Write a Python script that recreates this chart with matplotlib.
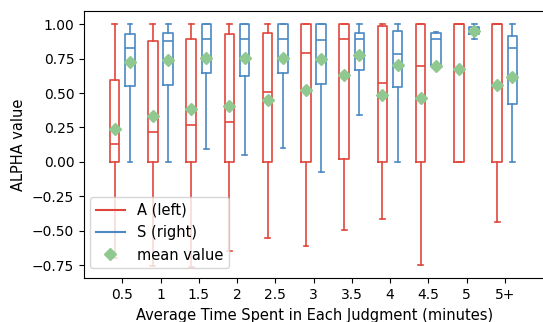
import numpy as np
import matplotlib
matplotlib.use("Agg")
import matplotlib.pyplot as plt
from matplotlib.lines import Line2D

# ---------------------------------------------------------------------------
# Data
# ---------------------------------------------------------------------------
groups = ["0.5", "1", "1.5", "2", "2.5", "3", "3.5", "4", "4.5", "5", "5+"]

# A (left)
a_lo   = [-0.70, -0.757, -0.76, -0.648, -0.556, -0.612, -0.493, -0.418, -0.745, 0.00, -0.437]
a_q1   = [0.00, 0.00, 0.00, 0.00, 0.00, 0.00, 0.023, 0.00, 0.00, 0.00, 0.00]
a_med  = [0.132, 0.217, 0.27, 0.289, 0.505, 0.794, 0.895, 0.573, 0.699, 1.00, 1.00]
a_q3   = [0.597, 0.878, 0.895, 0.93, 0.939, 1.00, 1.00, 0.987, 1.00, 1.00, 1.00]
a_hi   = [1.00, 1.00, 1.00, 1.00, 1.00, 1.00, 1.00, 1.00, 1.00, 1.00, 1.00]
a_mean = [0.24, 0.336, 0.385, 0.408, 0.452, 0.522, 0.634, 0.486, 0.464, 0.674, 0.556]

# S (right)
s_lo   = [0.00, 0.00, 0.093, 0.052, 0.10, -0.074, 0.343, 0.00, 0.70, 0.895, 0.00]
s_q1   = [0.554, 0.561, 0.643, 0.624, 0.643, 0.568, 0.667, 0.541, 0.706, 0.927, 0.418]
s_med  = [0.83, 0.876, 0.895, 0.895, 0.895, 0.888, 0.895, 0.781, 0.895, 0.956, 0.827]
s_q3   = [0.93, 0.939, 1.00, 1.00, 1.00, 1.00, 0.934, 0.948, 0.934, 0.977, 0.917]
s_hi   = [1.00, 1.00, 1.00, 1.00, 1.00, 1.00, 1.00, 1.00, 0.94, 1.00, 1.00]
s_mean = [0.725, 0.74, 0.757, 0.757, 0.757, 0.745, 0.774, 0.706, 0.696, 0.95, 0.614]

RED   = "#e0453b"
BLUE  = "#4a89c4"
GREEN = "#90c990"


def make_stats(lo, q1, med, q3, hi, mean):
    return [dict(whislo=l, q1=a, med=m, q3=b, whishi=h, mean=mu, fliers=[])
            for l, a, m, b, h, mu in zip(lo, q1, med, q3, hi, mean)]


def draw(ax, stats, positions, color):
    lw = 1.2
    ax.bxp(stats, positions=positions, widths=0.25, showmeans=True,
           showfliers=False, manage_ticks=False,
           boxprops=dict(color=color, linewidth=lw),
           whiskerprops=dict(color=color, linewidth=lw),
           capprops=dict(color=color, linewidth=lw),
           medianprops=dict(color=color, linewidth=lw),
           meanprops=dict(marker="D", markerfacecolor=GREEN,
                          markeredgecolor=GREEN, markersize=6.5))


fig = plt.figure(figsize=(5.43, 3.22), dpi=100)
# right edge sits just past the canvas, as in the (cropped) reference
ax = fig.add_axes([0.1547, 0.1357, 0.849, 0.830])

pos = np.arange(1, len(groups) + 1)
draw(ax, make_stats(a_lo, a_q1, a_med, a_q3, a_hi, a_mean), pos - 0.2, RED)
draw(ax, make_stats(s_lo, s_q1, s_med, s_q3, s_hi, s_mean), pos + 0.2, BLUE)

ax.set_xlim(0, 12.05)
ax.set_ylim(-0.845, 1.095)
ax.set_xticks(pos)
ax.set_xticklabels(groups, fontsize=10)
yt = np.arange(-0.75, 1.01, 0.25)
ax.set_yticks(yt)
ax.set_yticklabels([f"{v:.2f}".replace("-", "\u2212") for v in yt], fontsize=10)
ax.set_xlabel("Average Time Spent in Each Judgment (minutes)", fontsize=10.5)
ax.set_ylabel("ALPHA value", fontsize=10.5)

handles = [
    Line2D([], [], color=RED, lw=1.5),
    Line2D([], [], color=BLUE, lw=1.5),
    Line2D([], [], ls="", marker="D", color=GREEN, markersize=6.5),
]
ax.legend(handles, ["A (left)", "S (right)", "mean value"], loc="lower left",
          bbox_to_anchor=(0.013, 0.037), borderaxespad=0, fontsize=10.5)

fig.savefig("out.png", dpi=100)
